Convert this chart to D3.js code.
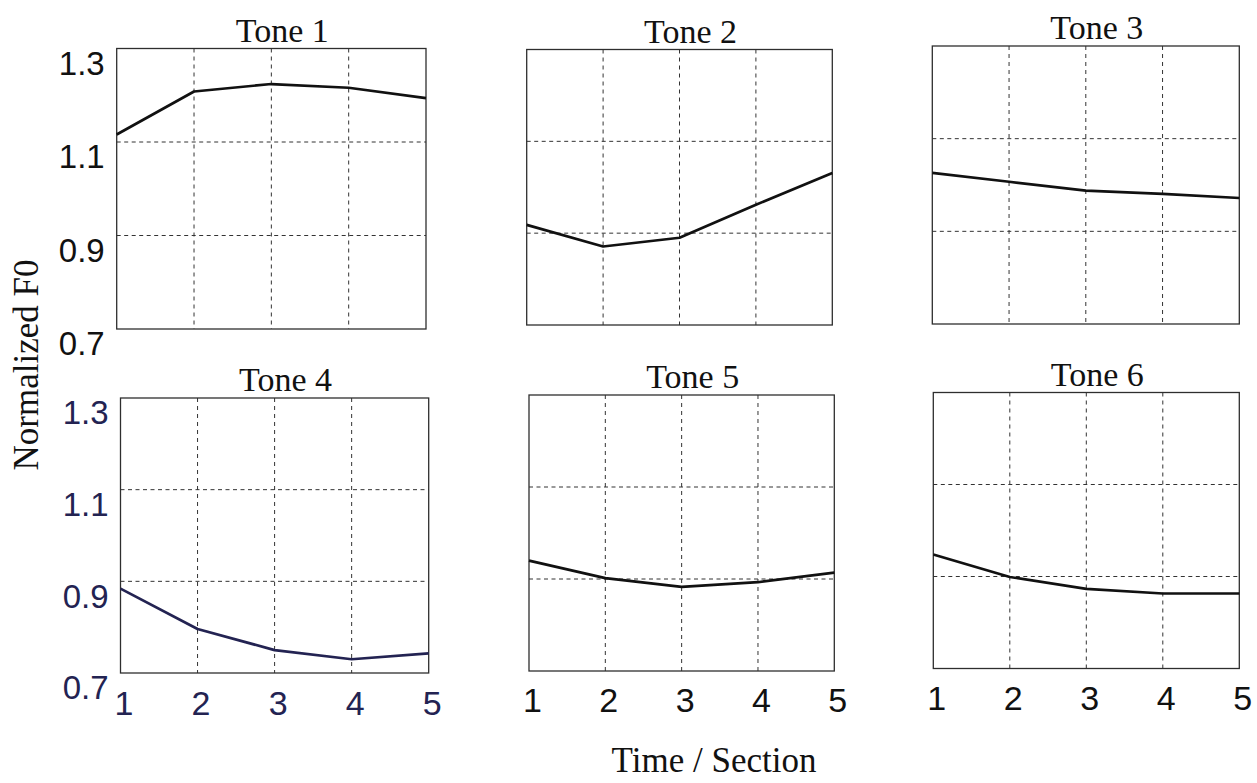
<!DOCTYPE html>
<html>
<head>
<meta charset="utf-8">
<script src="https://cdn.jsdelivr.net/npm/d3@7"></script>
<style>
  html, body { margin: 0; padding: 0; background: #ffffff; }
  svg { display: block; }
</style>
</head>
<body>
<svg id="chart" width="1257" height="783"></svg>
<script>
// Normalized F0 contours, five time sections per tone
const sections = [1, 2, 3, 4, 5];
const toneNames = ["Tone 1", "Tone 2", "Tone 3", "Tone 4", "Tone 5", "Tone 6"];
const tone1 = [1.116, 1.208, 1.224, 1.216, 1.194];
const tone2 = [0.918, 0.871, 0.890, 0.962, 1.031];
const tone3 = [1.026, 1.007, 0.988, 0.981, 0.972];
const tone4 = [0.884, 0.796, 0.750, 0.730, 0.743];
const tone5 = [0.940, 0.902, 0.883, 0.893, 0.914];
const tone6 = [0.948, 0.899, 0.873, 0.863, 0.863];
const yTickValues = [0.7, 0.9, 1.1, 1.3];
const yTickLabels = ["0.7", "0.9", "1.1", "1.3"];
const yGridValues = [0.9, 1.1];
const xGridValues = [2, 3, 4];
const yDomain = [0.7, 1.3];
const xLabelText = "Time / Section";
const yLabelText = "Normalized F0";

const toneSeries = [tone1, tone2, tone3, tone4, tone5, tone6];

// Panel frames (left, right, top, bottom) for the 2 x 3 grid
const frames = [
  { x0: 116.7, x1: 426.0, y0: 48.5, y1: 329.0, ink: "#111111" },
  { x0: 526.7, x1: 832.3, y0: 49.5, y1: 325.0, ink: "#111111" },
  { x0: 932.3, x1: 1239.3, y0: 46.0, y1: 324.0, ink: "#111111" },
  { x0: 120.5, x1: 428.7, y0: 398.0, y1: 673.0, ink: "#232352" },
  { x0: 529.0, x1: 834.3, y0: 395.0, y1: 671.0, ink: "#111111" },
  { x0: 933.3, x1: 1239.3, y0: 392.5, y1: 668.5, ink: "#111111" }
];

const svg = d3.select("#chart");
svg.append("rect").attr("width", 1257).attr("height", 783).attr("fill", "#ffffff");

const serif = "'Liberation Serif', 'Times New Roman', serif";
const sans = "'Liberation Sans', Arial, Helvetica, sans-serif";

toneSeries.forEach((vals, i) => {
  const f = frames[i];
  const col = i % 3;
  const row = Math.floor(i / 3);
  const x = d3.scaleLinear().domain([sections[0], sections[sections.length - 1]]).range([f.x0, f.x1]);
  const y = d3.scaleLinear().domain(yDomain).range([f.y1, f.y0]);
  const g = svg.append("g");

  // dashed grid
  g.selectAll("line.hgrid").data(yGridValues).join("line")
    .attr("x1", f.x0).attr("x2", f.x1)
    .attr("y1", d => y(d)).attr("y2", d => y(d))
    .attr("stroke", "#333").attr("stroke-width", 1)
    .attr("stroke-dasharray", "4,3.5");
  g.selectAll("line.vgrid").data(xGridValues).join("line")
    .attr("x1", d => x(d)).attr("x2", d => x(d))
    .attr("y1", f.y0).attr("y2", f.y1)
    .attr("stroke", "#333").attr("stroke-width", 1)
    .attr("stroke-dasharray", "4,4");

  // frame
  g.append("rect")
    .attr("x", f.x0).attr("y", f.y0)
    .attr("width", f.x1 - f.x0).attr("height", f.y1 - f.y0)
    .attr("fill", "none").attr("stroke", "#2e2e2e").attr("stroke-width", 1.3);

  // contour
  const line = d3.line().x((d, k) => x(sections[k])).y(d => y(d));
  g.append("path").datum(vals)
    .attr("d", line)
    .attr("fill", "none")
    .attr("stroke", f.ink)
    .attr("stroke-width", 2.7)
    .attr("stroke-linejoin", "round");

  // title
  g.append("text")
    .attr("x", (f.x0 + f.x1) / 2 + 11)
    .attr("y", f.y0 - 7)
    .attr("text-anchor", "middle")
    .attr("font-family", serif)
    .attr("font-size", 34)
    .attr("fill", "#111")
    .text(toneNames[i]);

  // y tick labels on the left column
  if (col === 0) {
    const ax = g.append("g")
      .attr("transform", `translate(${f.x0},0)`)
      .call(d3.axisLeft(y).tickValues(yTickValues)
        .tickFormat((d, k) => yTickLabels[k]).tickSize(0).tickPadding(12));
    ax.select(".domain").remove();
    ax.selectAll("text")
      .attr("dy", "0.78em")
      .attr("font-family", sans)
      .attr("font-size", 33)
      .attr("fill", f.ink);
  }

  // x tick labels on the bottom row
  if (row === 1) {
    const ax = g.append("g")
      .attr("transform", `translate(0,${f.y1})`)
      .call(d3.axisBottom(x).tickValues(sections).tickFormat(d3.format("d"))
        .tickSize(0).tickPadding(i === 3 ? 18 : 17));
    ax.select(".domain").remove();
    ax.selectAll("text")
      .attr("dx", 3)
      .attr("font-family", sans)
      .attr("font-size", 34)
      .attr("fill", f.ink);
  }
});

// shared axis titles
svg.append("text")
  .attr("x", 714).attr("y", 772)
  .attr("text-anchor", "middle")
  .attr("font-family", serif)
  .attr("font-size", 35)
  .attr("fill", "#111")
  .text(xLabelText);

svg.append("text")
  .attr("transform", "translate(38,365) rotate(-90)")
  .attr("text-anchor", "middle")
  .attr("font-family", serif)
  .attr("font-size", 35)
  .attr("fill", "#111")
  .text(yLabelText);
</script>
</body>
</html>
